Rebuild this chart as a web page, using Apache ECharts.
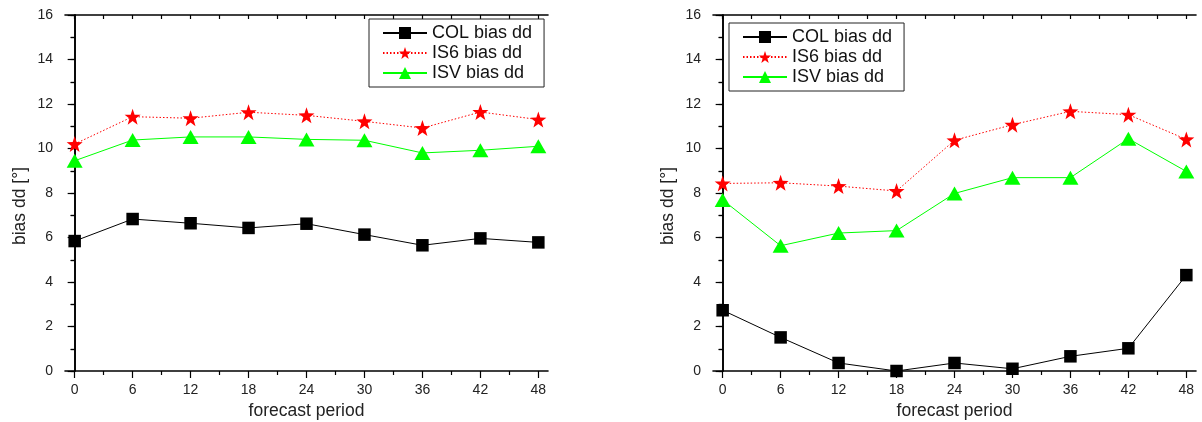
<!DOCTYPE html>
<html>
<head>
<meta charset="utf-8">
<script src="https://cdn.jsdelivr.net/npm/echarts@6/dist/echarts.min.js"></script>
<style>
  html, body { margin: 0; padding: 0; background: #fff; }
  #chart { width: 1202px; height: 422px; }
</style>
</head>
<body>
<div id="chart"></div>
<script>
// Forecast periods (hours)
const periods = [0, 6, 12, 18, 24, 30, 36, 42, 48];
const majorTicks = [0, 6, 12, 18, 24, 30, 36, 42, 48];
const minorTicks = [3, 9, 15, 21, 27, 33, 39, 45];
const topTicks = [0, 3, 6, 9, 12, 15, 18, 21, 24, 27, 30, 33, 36, 39, 42, 45, 48];

// Left panel: wind direction bias
const colLeft = [5.84, 6.83, 6.64, 6.43, 6.62, 6.13, 5.65, 5.96, 5.78];
const is6Left = [10.2, 11.43, 11.36, 11.63, 11.49, 11.22, 10.92, 11.64, 11.3];
const isvLeft = [9.45, 10.38, 10.52, 10.52, 10.41, 10.37, 9.8, 9.92, 10.1];

// Right panel: wind direction bias
const colRight = [2.73, 1.51, 0.36, 0.0, 0.36, 0.1, 0.66, 1.02, 4.31];
const is6Right = [8.43, 8.46, 8.31, 8.09, 10.37, 11.07, 11.67, 11.52, 10.41];
const isvRight = [7.69, 5.63, 6.2, 6.31, 7.98, 8.69, 8.69, 10.44, 8.97];

const seriesNames = ['COL bias dd', 'IS6 bias dd', 'ISV bias dd'];
const xTitle = 'forecast period';
const yTitle = 'bias dd [°]';

const FONT = 'Liberation Sans, Arial, sans-serif';
const INK = '#000';
const STAR = 'path://M0,-10L2.35,-3.24L9.51,-3.09L3.8,1.24L5.88,8.09L0,4L-5.88,8.09L-3.8,1.24L-9.51,-3.09L-2.35,-3.24Z';

const grids = [
  { left: 65, top: 15, width: 483, height: 356, outerBoundsMode: 'none', containLabel: false },
  { left: 713, top: 15, width: 483, height: 356, outerBoundsMode: 'none', containLabel: false }
];

const frameLine = { show: true, lineStyle: { color: INK, width: 1.6 } };

function pts(values) {
  return periods.map((p, i) => [p, values[i]]);
}

const xAxes = [];
const yAxes = [];
grids.forEach((g, gi) => {
  // bottom axis: labelled major ticks
  xAxes.push({
    gridIndex: gi, type: 'value', position: 'bottom', min: -1, max: 49,
    axisLine: frameLine,
    axisTick: { show: true, inside: false, length: 7, customValues: majorTicks,
                lineStyle: { color: INK, width: 1.2 } },
    axisLabel: { show: true, customValues: majorTicks, margin: 12,
                 fontSize: 14, fontFamily: FONT, color: '#222' },
    splitLine: { show: false },
    name: xTitle, nameLocation: 'middle', nameGap: 30,
    nameTextStyle: { fontSize: 17.5, fontFamily: FONT, color: '#222' }
  });
  // bottom axis: short minor ticks
  xAxes.push({
    gridIndex: gi, type: 'value', position: 'bottom', min: -1, max: 49,
    axisLine: { show: false },
    axisTick: { show: true, inside: false, length: 4, customValues: minorTicks,
                lineStyle: { color: INK, width: 1.2 } },
    axisLabel: { show: false },
    splitLine: { show: false }
  });
  // top frame with inward ticks
  xAxes.push({
    gridIndex: gi, type: 'value', position: 'top', min: -1, max: 49,
    axisLine: frameLine,
    axisTick: { show: true, inside: true, length: 4, customValues: topTicks,
                lineStyle: { color: INK, width: 1.2 } },
    axisLabel: { show: false },
    splitLine: { show: false }
  });
  // left axis
  yAxes.push({
    gridIndex: gi, type: 'value', position: 'left', min: 0, max: 16, interval: 2,
    axisLine: frameLine,
    axisTick: { show: true, inside: false, length: 7, lineStyle: { color: INK, width: 1.2 } },
    minorTick: { show: true, splitNumber: 2, length: 4, lineStyle: { color: INK, width: 1.2 } },
    axisLabel: { show: true, margin: 12, fontSize: 14, fontFamily: FONT, color: '#222' },
    splitLine: { show: false },
    name: yTitle, nameLocation: 'middle', nameGap: 36,
    nameTextStyle: { fontSize: 17.5, fontFamily: FONT, color: '#222', padding: [0, 26, 0, 0] }
  });
  // right frame with inward ticks
  yAxes.push({
    gridIndex: gi, type: 'value', position: 'right', min: 0, max: 16, interval: 1,
    axisLine: frameLine,
    axisTick: { show: true, inside: true, length: 4, lineStyle: { color: INK, width: 1.2 } },
    axisLabel: { show: false },
    splitLine: { show: false }
  });
});

function makeSeries(gi, col, is6, isv) {
  const xi = gi * 3;
  const yi = gi * 2;
  return [
    {
      name: seriesNames[0], type: 'line', xAxisIndex: xi, yAxisIndex: yi,
      data: pts(col), symbol: 'rect', symbolSize: 12.5,
      itemStyle: { color: '#000' },
      lineStyle: { color: '#000', width: 1, type: 'solid' },
      animation: false, z: 3
    },
    {
      name: seriesNames[1], type: 'line', xAxisIndex: xi, yAxisIndex: yi,
      data: pts(is6), symbol: STAR, symbolSize: 16,
      itemStyle: { color: '#ff0000' },
      lineStyle: { color: '#ff0000', width: 1, type: [1.5, 2] },
      animation: false, z: 3
    },
    {
      name: seriesNames[2], type: 'line', xAxisIndex: xi, yAxisIndex: yi,
      data: pts(isv), symbol: 'triangle', symbolSize: [16, 14],
      itemStyle: { color: '#00ff00' },
      lineStyle: { color: '#00ff00', width: 1, type: 'solid' },
      animation: false, z: 3
    }
  ];
}

const legendBase = {
  orient: 'vertical', data: seriesNames,
  itemWidth: 44, itemHeight: 15, itemGap: 2,
  borderColor: '#222', borderWidth: 1, borderRadius: 0,
  padding: [5, 12, 5, 13],
  textStyle: { fontSize: 18, fontFamily: FONT, color: '#111' },
  selectedMode: false
};

const option = {
  backgroundColor: '#fff',
  animation: false,
  grid: grids,
  xAxis: xAxes,
  yAxis: yAxes,
  legend: [
    Object.assign({}, legendBase, { left: 369, top: 19 }),
    Object.assign({}, legendBase, { left: 729, top: 23 })
  ],
  series: makeSeries(0, colLeft, is6Left, isvLeft).concat(makeSeries(1, colRight, is6Right, isvRight))
};

const chart = echarts.init(document.getElementById('chart'), null, { renderer: 'canvas' });
chart.setOption(option);
</script>
</body>
</html>
